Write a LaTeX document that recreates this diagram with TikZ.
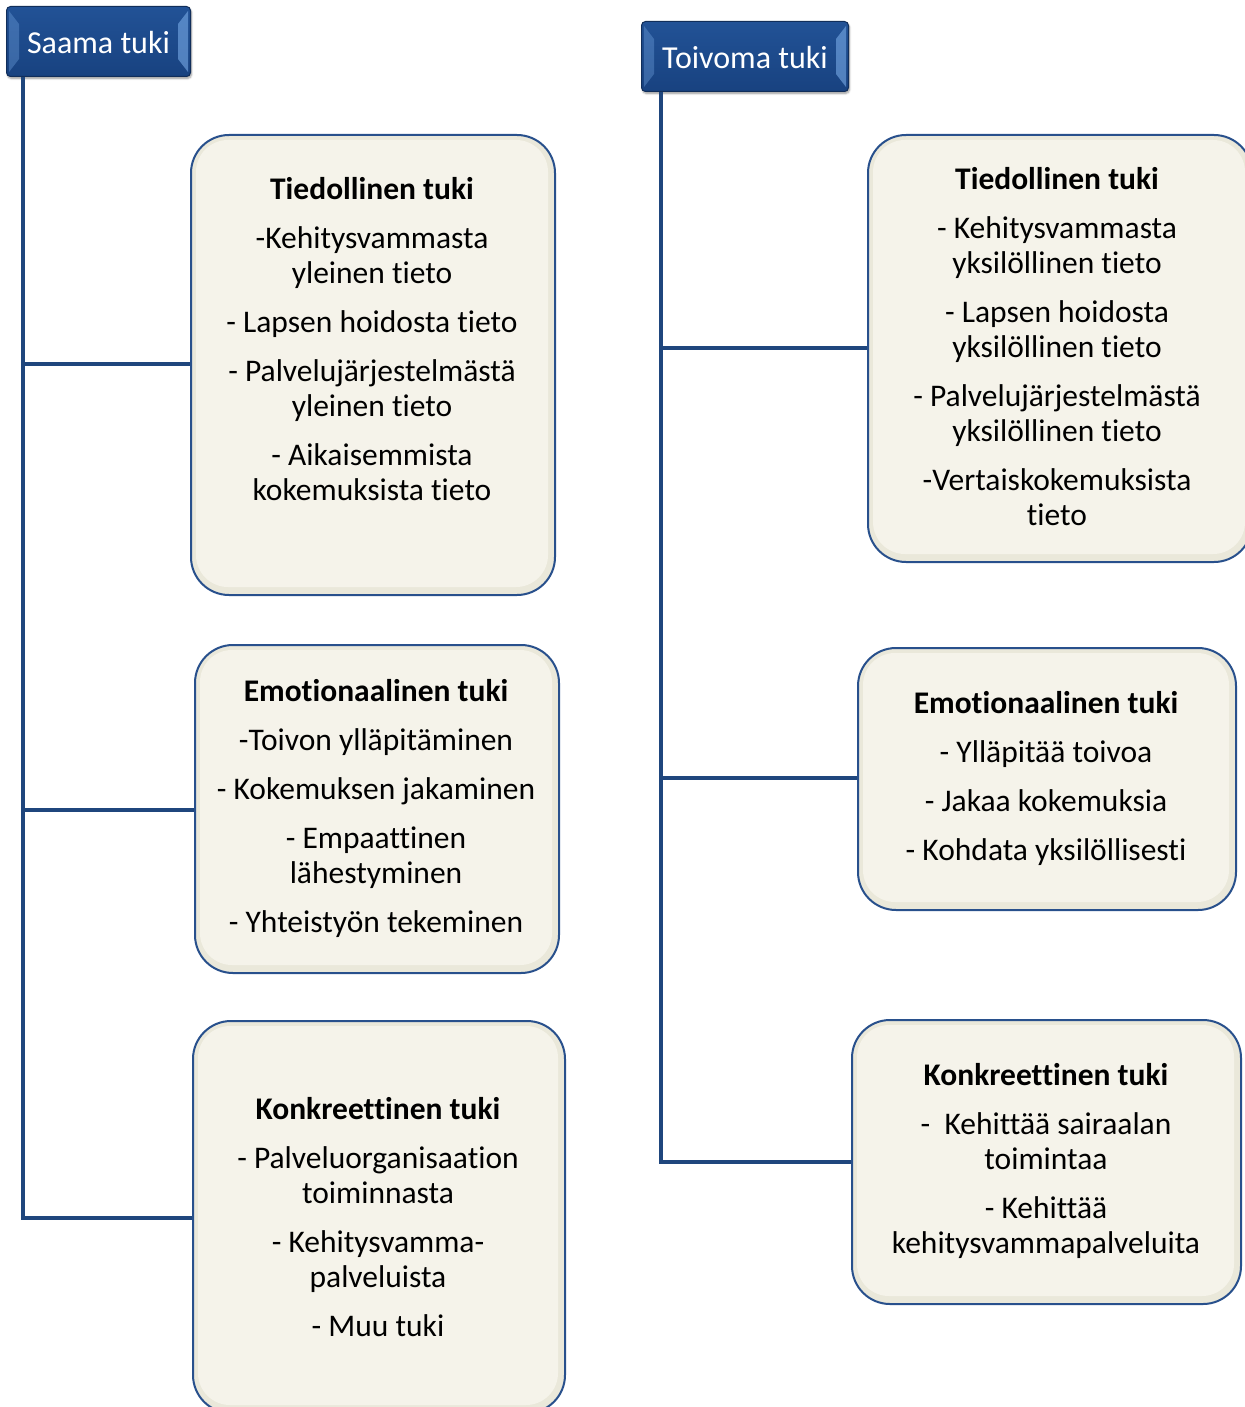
\documentclass[tikz,border=0pt]{standalone}
\usepackage{fontspec}
\setmainfont{Carlito}[RawFeature={-liga;-clig;-dlig;-calt}]
\usetikzlibrary{shadows.blur}
\definecolor{hdrblue}{RGB}{24,66,128}
\definecolor{hdrtop}{RGB}{34,82,150}
\definecolor{hdrlight}{RGB}{120,170,230}
\definecolor{trunkblue}{RGB}{31,70,125}
\definecolor{edgeblue}{RGB}{40,80,140}
\definecolor{cream}{RGB}{245,243,234}
\definecolor{creamedge}{RGB}{234,232,218}
\begin{document}
\begin{tikzpicture}[x=1pt,y=-1pt,
  header/.style={draw=hdrblue!70!black, line width=1pt, top color=hdrtop, bottom color=hdrblue,
    rounded corners=4pt, anchor=north west, inner sep=0pt,
    blur shadow={shadow xshift=1pt, shadow yshift=-2pt, shadow blur steps=5}},
  hdrtext/.style={text=white, font=\fontsize{32}{36}\selectfont, inner sep=0pt},
  panel/.style={draw=edgeblue, line width=2pt, fill=creamedge, rounded corners=38pt,
    anchor=north west, inner sep=0pt},
  body/.style={align=center, font=\fontsize{31.5}{35}\selectfont, inner sep=0pt, text=black},
  trunk/.style={draw=trunkblue, line width=4pt}
]
\useasboundingbox (0,0) rectangle (1244,1407);

% ---- header boxes
\node[header, minimum width=184pt, minimum height=70pt] (saama) at (6,6) {};
\node[header, minimum width=207pt, minimum height=70pt] (toivoma) at (641,21) {};

% branch points on the two trunks
\coordinate (lb1) at (23,364);
\coordinate (lb2) at (23,810);
\coordinate (lb3) at (23,1218);
\coordinate (rb1) at (661,348);
\coordinate (rb2) at (661,778);
\coordinate (rb3) at (661,1162);

% ---- panels, left column
\node[panel, minimum width=364pt, minimum height=460pt] (l1) at (190,134) {};
\node[panel, minimum width=364pt, minimum height=328pt] (l2) at (194,644) {};
\node[panel, minimum width=372pt, minimum height=392pt] (l3) at (192,1020) {};
% ---- panels, right column
\node[panel, minimum width=384pt, minimum height=427pt] (r1) at (867,134) {};
\node[panel, minimum width=378pt, minimum height=262pt] (r2) at (857,647) {};
\node[panel, minimum width=389pt, minimum height=284pt] (r3) at (851,1019) {};

% inner faces of the panels
\foreach \p in {l1,l2,l3,r1,r2,r3}{
  \fill[cream, rounded corners=32pt]
    ([xshift=6pt,yshift=-6pt]\p.north west) rectangle ([xshift=-8pt,yshift=9pt]\p.south east);
}

% connectors
\draw[trunk] (saama.south -| lb1) -- (lb3) -- (lb3 -| l3.west);
\draw[trunk] (lb1) -- (lb1 -| l1.west);
\draw[trunk] (lb2) -- (lb2 -| l2.west);
\draw[trunk] (toivoma.south -| rb1) -- (rb3) -- (rb3 -| r3.west);
\draw[trunk] (rb1) -- (rb1 -| r1.west);
\draw[trunk] (rb2) -- (rb2 -| r2.west);

% header bevel highlights and labels
\foreach \h in {saama,toivoma}{
  \fill[hdrlight, opacity=0.35] ([xshift=3pt,yshift=-5pt]\h.north west) -- ([xshift=13pt,yshift=-18pt]\h.north west)
     -- ([xshift=13pt,yshift=18pt]\h.south west) -- ([xshift=3pt,yshift=5pt]\h.south west) -- cycle;
  \fill[hdrlight, opacity=0.6] ([xshift=-3pt,yshift=-5pt]\h.north east) -- ([xshift=-13pt,yshift=-18pt]\h.north east)
     -- ([xshift=-13pt,yshift=18pt]\h.south east) -- ([xshift=-3pt,yshift=5pt]\h.south east) -- cycle;
}
\node[hdrtext] (saamat) at ([yshift=-1pt]saama.center) {Saama tuki};
\node[hdrtext] (toivomat) at ([yshift=-1pt]toivoma.center) {Toivoma tuki};

% ---- panel texts
\node[body] (l1t) at (372,339) {\textbf{Tiedollinen tuki}\\[14pt]
  -Kehitysvammasta\\ yleinen tieto\\[14pt]
  - Lapsen hoidosta tieto\\[14pt]
  - Palvelujärjestelmästä\\ yleinen tieto\\[14pt]
  - Aikaisemmista\\ kokemuksista tieto};
\node[body] (l2t) at (376,808) {\textbf{Emotionaalinen tuki}\\[14pt]
  -Toivon ylläpitäminen\\[14pt]
  - Kokemuksen jakaminen\\[14pt]
  - Empaattinen\\ lähestyminen\\[14pt]
  - Yhteistyön tekeminen};
\node[body] (l3t) at (378,1217) {\textbf{Konkreettinen tuki}\\[14pt]
  - Palveluorganisaation\\ toiminnasta\\[14pt]
  - Kehitysvamma-\\ palveluista\\[14pt]
  - Muu tuki};
\node[body] (r1t) at (1057,347) {\textbf{Tiedollinen tuki}\\[14pt]
  - Kehitysvammasta\\ yksilöllinen tieto\\[14pt]
  - Lapsen hoidosta\\ yksilöllinen tieto\\[14pt]
  - Palvelujärjestelmästä\\ yksilöllinen tieto\\[14pt]
  -Vertaiskokemuksista\\ tieto};
\node[body] (r2t) at (1046,778) {\textbf{Emotionaalinen tuki}\\[14pt]
  - Ylläpitää toivoa\\[14pt]
  - Jakaa kokemuksia\\[14pt]
  - Kohdata yksilöllisesti};
\node[body] (r3t) at (1046,1161) {\textbf{Konkreettinen tuki}\\[14pt]
  -\ \ Kehittää sairaalan\\ toimintaa\\[14pt]
  - Kehittää\\ kehitysvammapalveluita};
\end{tikzpicture}
\end{document}
